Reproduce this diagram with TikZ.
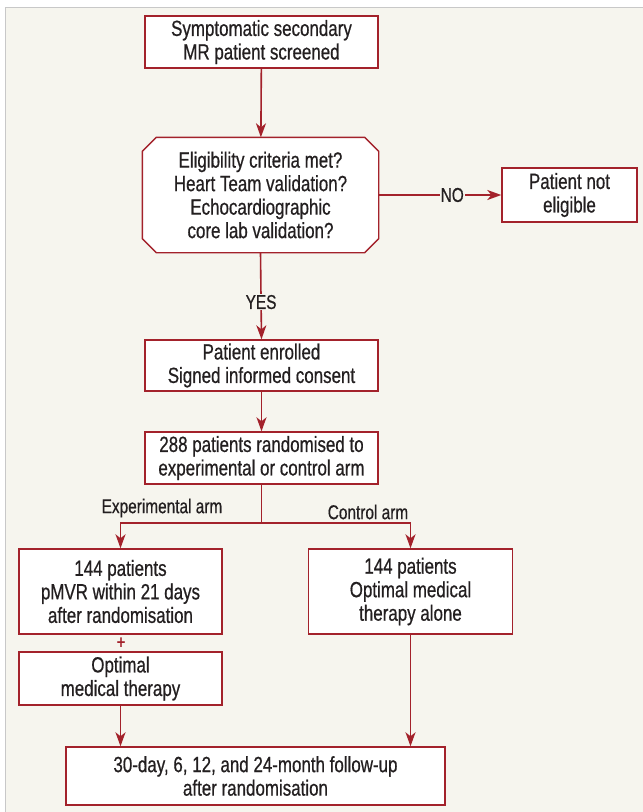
\documentclass[tikz,border=0pt]{standalone}
\usepackage{fontspec}
\setmainfont[FakeStretch=0.77,FakeBold=0.6]{Liberation Sans}
\usetikzlibrary{arrows.meta}
\definecolor{fred}{HTML}{A3222B}
\definecolor{fbg}{HTML}{F6F5EE}
\definecolor{ftxt}{HTML}{231F20}
\definecolor{fframe}{HTML}{C8C8C8}
\begin{document}
\begin{tikzpicture}[x=1pt,y=-1pt,
 box/.style={draw=fred, line width=1.4pt, fill=white, inner sep=0pt, align=center, text=ftxt, font=\fontsize{22}{23.5}\selectfont},
 lbl/.style={text=ftxt, font=\fontsize{20}{22}\selectfont, inner sep=1pt},
 conn/.style={draw=fred, line width=1.6pt},
 arr/.style={conn, -{Stealth[length=14pt,width=10pt,inset=4pt]}}]
\path[use as bounding box] (0,0) rectangle (643,812);
\fill[white] (0,0) rectangle (643,812);
\fill[fbg] (5,7) rectangle (643,812);
\draw[fframe, line width=1pt] (5,812) -- (5,7) -- (643,7);

\node[box, minimum width=233pt, minimum height=52pt] (b1) at (261.5,42) {Symptomatic secondary\\MR patient screened};
\node[box, draw=none, fill=none, minimum width=235pt, minimum height=114pt] (oct) at (260.5,195) {};
\draw[draw=fred, line width=1.4pt, fill=white]
  ([xshift=14pt]oct.north west) -- ([xshift=-14pt]oct.north east) -- ([yshift=-14pt]oct.north east)
  -- ([yshift=14pt]oct.south east) -- ([xshift=-14pt]oct.south east) -- ([xshift=14pt]oct.south west)
  -- ([yshift=14pt]oct.south west) -- ([yshift=-14pt]oct.north west) -- cycle;
\node[box, draw=none, fill=none] (octtext) at (oct.center) {Eligibility criteria met?\\Heart Team validation?\\Echocardiographic\\core lab validation?};
\node[box, minimum width=135pt, minimum height=54pt] (ne) at (569.5,195) {Patient not\\eligible};
\node[box, minimum width=233pt, minimum height=51pt] (en) at (261.5,365.5) {Patient enrolled\\Signed informed consent};
\node[box, minimum width=233pt, minimum height=52pt] (rnd) at (261.5,458) {288 patients randomised to\\experimental or control arm};
\node[box, minimum width=203pt, minimum height=85pt] (L1) at (120.5,591.5) {144 patients\\pMVR within 21 days\\after randomisation};
\node[text=fred, font=\fontsize{19}{22}\selectfont, inner sep=0pt] (plus) at (121,643) {+};
\node[box, minimum width=203pt, minimum height=53pt] (L2) at (120.5,678.5) {Optimal\\medical therapy};
\node[box, minimum width=204pt, minimum height=85pt] (R1) at (410.5,591.5) {144 patients\\Optimal medical\\therapy alone};
\node[box, minimum width=379pt, minimum height=58pt] (bot) at (255.5,776) {30-day, 6, 12, and 24-month follow-up\\after randomisation};

\coordinate (split) at (261.5,523);
\node[lbl] (lexp) at (162,508) {Experimental arm};
\node[lbl] (lctl) at (368,512) {Control arm};

\draw[arr] (b1) -- (oct);
\draw[arr] (oct.east) -- node[pos=0.6, lbl, fill=fbg] (no) {NO} (ne.west);
\draw[arr] (oct.south) -- node[pos=0.57, lbl, fill=fbg] (yes) {YES} (en.north);
\draw[arr] (en) -- (rnd);
\draw[conn] (rnd.south) -- (split);
\draw[arr] (split) -| (L1.north);
\draw[arr] (split) -| (R1.north);
\draw[arr] (L2.south) -- (L2.south |- bot.north);
\draw[arr] (R1.south) -- (R1.south |- bot.north);
\end{tikzpicture}
\end{document}
